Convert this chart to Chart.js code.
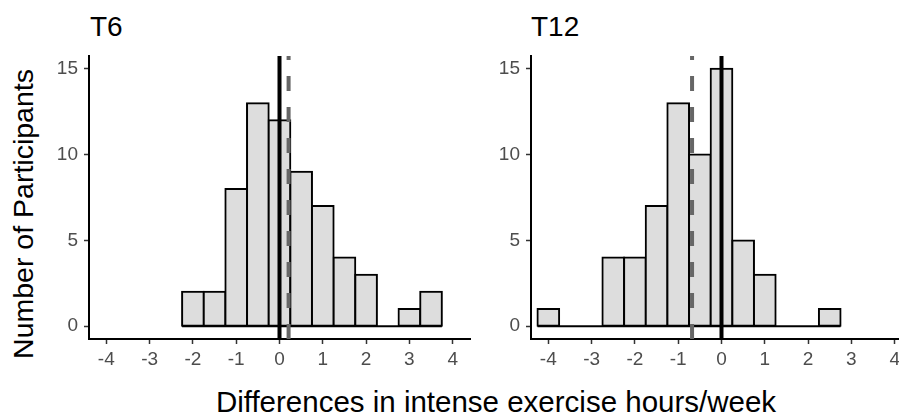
<!DOCTYPE html>
<html>
<head>
<meta charset="utf-8">
<script src="https://cdn.jsdelivr.net/npm/chart.js@4.4.1/dist/chart.umd.min.js"></script>
<style>
  body { margin: 0; width: 899px; height: 414px; overflow: hidden; background: #fff; position: relative;
         font-family: "Liberation Sans", Arial, sans-serif; }
  canvas { position: absolute; top: 50px; }
  .title { position: absolute; top: 13px; font-size: 28px; line-height: 28px; color: #000; }
  #xlab { position: absolute; top: 388px; left: 0; width: 992px; text-align: center; font-size: 29.5px; line-height: 28px; }
  #ylab { position: absolute; left: 23px; top: 214px; font-size: 28.5px; line-height: 28px; white-space: nowrap;
          transform: translate(-50%, -50%) rotate(-90deg); }
</style>
</head>
<body>
<div class="title" style="left:90px">T6</div>
<div class="title" style="left:531px">T12</div>
<div id="ylab">Number of Participants</div>
<div id="xlab">Differences in intense exercise hours/week</div>
<canvas id="t6" width="440" height="320" style="left:40px"></canvas>
<canvas id="t12" width="440" height="320" style="left:482px"></canvas>
<script>
// histogram bins (centre of each 0.5-wide bin) and counts
const binCentersT6 = [-2, -1.5, -1, -0.5, 0, 0.5, 1, 1.5, 2, 2.5, 3, 3.5];
const countsT6 = [2, 2, 8, 13, 12, 9, 7, 4, 3, 0, 1, 2];
const binCentersT12 = [-4, -3.5, -3, -2.5, -2, -1.5, -1, -0.5, 0, 0.5, 1, 1.5, 2, 2.5];
const countsT12 = [1, 0, 0, 4, 4, 7, 13, 10, 15, 5, 3, 0, 0, 1];
const binWidth = 0.5;

// mean difference (dashed line)
const meanT6 = 0.21;
const meanT12 = -0.68;

// axes
const xTicks = [-4, -3, -2, -1, 0, 1, 2, 3, 4];
const yTicks = [0, 5, 10, 15];
const xRange = [-4.4, 4.4];
const yRange = [-0.75, 15.75];

const tickFont = { family: '"Liberation Sans", Arial, sans-serif', size: 19 };

function vline(x, color, dash) {
    return {
        type: 'line',
        data: [{ x: x, y: yRange[0] }, { x: x, y: yRange[1] }],
        borderColor: color,
        borderWidth: 4,
        borderDash: dash,
        pointRadius: 0,
        order: 0
    };
}

// no extra room for the edge labels, the panel box is fixed
function noPad(s) {
    s.paddingTop = 0;
    s.paddingBottom = 0;
    s.paddingLeft = 0;
    s.paddingRight = 0;
}

function makePanel(id, centers, counts, mean) {
    const bars = centers.map((c, i) => ({ x: c, y: counts[i] }));
    const first = centers[0] - binWidth / 2;
    const last = centers[centers.length - 1] + binWidth / 2;

    new Chart(document.getElementById(id), {
        type: 'bar',
        data: {
            datasets: [
                {
                    type: 'bar',
                    data: bars,
                    backgroundColor: '#DDDDDD',
                    borderColor: '#000',
                    borderWidth: 2,
                    borderSkipped: false,
                    inflateAmount: 1,
                    barPercentage: 1,
                    categoryPercentage: 1,
                    order: 2
                },
                {
                    // zero-height bins still show as a line at 0
                    type: 'line',
                    data: [{ x: first, y: 0 }, { x: last, y: 0 }],
                    borderColor: '#000',
                    borderWidth: 2,
                    pointRadius: 0,
                    order: 1
                },
                vline(0, '#000', []),
                vline(mean, '#666666', [15, 16])
            ]
        },
        options: {
            responsive: false,
            animation: false,
            layout: { padding: { top: 6, right: 10, left: 0, bottom: 0 } },
            plugins: { legend: { display: false }, tooltip: { enabled: false } },
            scales: {
                x: {
                    type: 'linear',
                    offset: false,
                    min: xRange[0],
                    max: xRange[1],
                    afterBuildTicks: s => { s.ticks = xTicks.map(v => ({ value: v })); },
                    afterFit: s => { s.height = 31; noPad(s); },
                    ticks: { padding: 4, maxRotation: 0, autoSkip: false, color: '#4D4D4D', font: tickFont,
                             callback: v => String(v) },
                    grid: { offset: false, drawOnChartArea: false, drawTicks: true, tickLength: 5,
                            tickColor: '#333', tickWidth: 1.5 },
                    border: { display: true, color: '#000', width: 2 }
                },
                y: {
                    type: 'linear',
                    min: yRange[0],
                    max: yRange[1],
                    afterBuildTicks: s => { s.ticks = yTicks.map(v => ({ value: v })); },
                    afterFit: s => { s.width = 49; noPad(s); },
                    ticks: { padding: 6, color: '#4D4D4D', font: tickFont, callback: v => String(v) },
                    grid: { drawOnChartArea: false, drawTicks: true, tickLength: 5, tickColor: '#333', tickWidth: 1.5 },
                    border: { display: true, color: '#000', width: 2 }
                }
            }
        }
    });
}

makePanel('t6', binCentersT6, countsT6, meanT6);
makePanel('t12', binCentersT12, countsT12, meanT12);
</script>
</body>
</html>
